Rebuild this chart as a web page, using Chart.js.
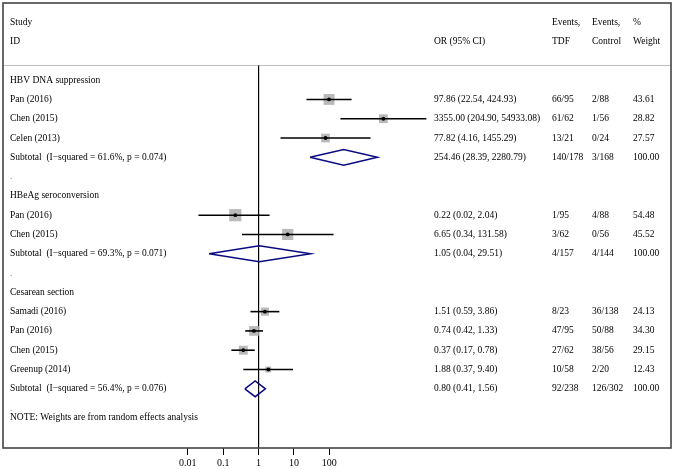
<!DOCTYPE html>
<html><head><meta charset="utf-8">
<script src="https://cdn.jsdelivr.net/npm/chart.js@4/dist/chart.umd.min.js"></script>
<style>html,body{margin:0;padding:0;background:#fff}#wrap{width:675px;height:469px;position:relative}</style>
</head><body><div id="wrap"><canvas id="c"></canvas></div>
<script>
// ---- data ----
const studies = ["Pan (2016)","Chen (2015)","Celen (2013)","Pan (2016)","Chen (2015)","Samadi (2016)","Pan (2016)","Chen (2015)","Greenup (2014)"];
const studyRows = [1,2,3,7,8,12,13,14,15];
const orValues = [97.86,3355.00,77.82,0.22,6.65,1.51,0.74,0.37,1.88];
const ciLower = [22.54,204.90,4.16,0.02,0.34,0.59,0.42,0.17,0.37];
const ciUpper = [424.93,54933.08,1455.29,2.04,131.58,3.86,1.33,0.78,9.40];
const eventsTDF = ["66/95","61/62","13/21","1/95","3/62","8/23","47/95","27/62","10/58"];
const eventsControl = ["2/88","1/56","0/24","4/88","0/56","36/138","50/88","38/56","2/20"];
const weights = [43.61,28.82,27.57,54.48,45.52,24.13,34.30,29.15,12.43];

const groups = ["HBV DNA suppression","HBeAg seroconversion","Cesarean section"];
const groupRows = [0,6,11];
const subtotalRows = [4,9,16];
const subtotalI2 = ["61.6%","69.3%","56.4%"];
const subtotalP = ["0.074","0.071","0.076"];
const subtotalOR = [254.46,1.05,0.80];
const subtotalLower = [28.39,0.04,0.41];
const subtotalUpper = [2280.79,29.51,1.56];
const subtotalTDF = ["140/178","4/157","92/238"];
const subtotalControl = ["3/168","4/144","126/302"];
const spacerRows = [5,10,17];
const noteRow = 17.5;
const noteText = "NOTE: Weights are from random effects analysis";
const xTicks = [0.01,0.1,1,10,100];

// ---- styling ----
const FONT = '9.5px "Liberation Serif", "Times New Roman", serif';
const colX = {label:10, or:434, tdf:552, ctrl:592, w:633};
const diamondHalf = 0.41;
const fmt = v => v.toFixed(2);

const datasets = [];
// dots
datasets.push({
  type:'scatter', order:0,
  data: studies.map((s,i)=>({x:orValues[i], y:studyRows[i]})),
  pointStyle:'circle', pointRadius:1.9, backgroundColor:'#000', borderColor:'#000', borderWidth:0
});
// CI lines
studies.forEach((s,i)=>{
  datasets.push({
    type:'scatter', order:1, showLine:true,
    data:[{x:ciLower[i], y:studyRows[i]},{x:ciUpper[i], y:studyRows[i]}],
    borderColor:'#000', borderWidth:1.6, pointRadius:0
  });
});
// weight squares
datasets.push({
  type:'scatter', order:2,
  data: studies.map((s,i)=>({x:orValues[i], y:studyRows[i]})),
  pointStyle:'rect',
  pointRadius: weights.map(w => 1.65*Math.sqrt(w)/Math.SQRT2),
  backgroundColor:'#b9b9b9', borderColor:'#b9b9b9', borderWidth:0
});
// subtotal diamonds
subtotalRows.forEach((r,i)=>{
  datasets.push({
    type:'scatter', order:3, showLine:true,
    data:[
      {x:subtotalLower[i], y:r},
      {x:subtotalOR[i], y:r-diamondHalf},
      {x:subtotalUpper[i], y:r},
      {x:subtotalOR[i], y:r+diamondHalf},
      {x:subtotalLower[i], y:r}
    ],
    borderColor:'#0a0a80', borderWidth:1.5, pointRadius:0, fill:false, tension:0
  });
});

const tablePlugin = {
  id:'forestTable',
  beforeDatasetsDraw(chart){
    const {ctx, chartArea:a, scales:{x,y}} = chart;
    ctx.save();
    // header separator
    const hy = Math.round(y.getPixelForValue(-0.79))+0.5;
    ctx.strokeStyle='#bdbdbd'; ctx.lineWidth=1;
    ctx.beginPath(); ctx.moveTo(a.left,hy); ctx.lineTo(a.right,hy); ctx.stroke();
    // null line at OR = 1
    const x1 = x.getPixelForValue(1);
    ctx.strokeStyle='#000'; ctx.lineWidth=1.2;
    ctx.beginPath(); ctx.moveTo(x1,hy); ctx.lineTo(x1,a.bottom); ctx.stroke();
    ctx.restore();
  },
  afterDatasetsDraw(chart){
    const {ctx, chartArea:a, scales:{y}} = chart;
    ctx.save();
    ctx.font = FONT; ctx.fillStyle='#000'; ctx.textBaseline='middle'; ctx.textAlign='left';
    const t = (s,cx,row)=>ctx.fillText(s,cx,y.getPixelForValue(row));
    // header
    t("Study",colX.label,-3); t("ID",colX.label,-2);
    t("OR (95% CI)",colX.or,-2);
    t("Events,",colX.tdf,-3); t("TDF",colX.tdf,-2);
    t("Events,",colX.ctrl,-3); t("Control",colX.ctrl,-2);
    t("%",colX.w,-3); t("Weight",colX.w,-2);
    groups.forEach((g,i)=>t(g,colX.label,groupRows[i]));
    studies.forEach((s,i)=>{
      const r = studyRows[i];
      t(s,colX.label,r);
      t(fmt(orValues[i])+" ("+fmt(ciLower[i])+", "+fmt(ciUpper[i])+")",colX.or,r);
      t(eventsTDF[i],colX.tdf,r); t(eventsControl[i],colX.ctrl,r); t(fmt(weights[i]),colX.w,r);
    });
    subtotalRows.forEach((r,i)=>{
      t("Subtotal  (I\u2212squared = "+subtotalI2[i]+", p = "+subtotalP[i]+")",colX.label,r);
      t(fmt(subtotalOR[i])+" ("+fmt(subtotalLower[i])+", "+fmt(subtotalUpper[i])+")",colX.or,r);
      t(subtotalTDF[i],colX.tdf,r); t(subtotalControl[i],colX.ctrl,r); t("100.00",colX.w,r);
    });
    ctx.fillStyle='#888';
    spacerRows.forEach(r=>t(".",colX.label,r));
    ctx.fillStyle='#000';
    t(noteText,colX.label,noteRow);
    // outer box
    ctx.strokeStyle='#444'; ctx.lineWidth=1.6;
    ctx.strokeRect(a.left,a.top,a.right-a.left,a.bottom-a.top);
    ctx.restore();
  }
};

new Chart(document.getElementById('c'), {
  type:'scatter',
  data:{datasets},
  options:{
    responsive:true, maintainAspectRatio:false, animation:false,
    layout:{autoPadding:false, padding:{left:3,right:4,top:3,bottom:0}},
    plugins:{legend:{display:false}, tooltip:{enabled:false}},
    scales:{
      x:{
        type:'logarithmic', min:6.05e-8, max:4.5e11,
        afterBuildTicks(s){ s.ticks = xTicks.map(v=>({value:v})); },
        afterFit(s){ s.height = 21; },
        grid:{display:true, drawOnChartArea:false, drawTicks:true, tickLength:7, color:'#000', lineWidth:1},
        border:{display:false},
        ticks:{autoSkip:false, maxRotation:0, padding:2, color:'#000',
          font:{family:'"Liberation Serif", serif', size:10},
          callback:(v)=>String(v)}
      },
      y:{type:'linear', display:false, min:-4, max:19.07, reverse:true}
    }
  },
  plugins:[tablePlugin]
});
</script></body></html>
